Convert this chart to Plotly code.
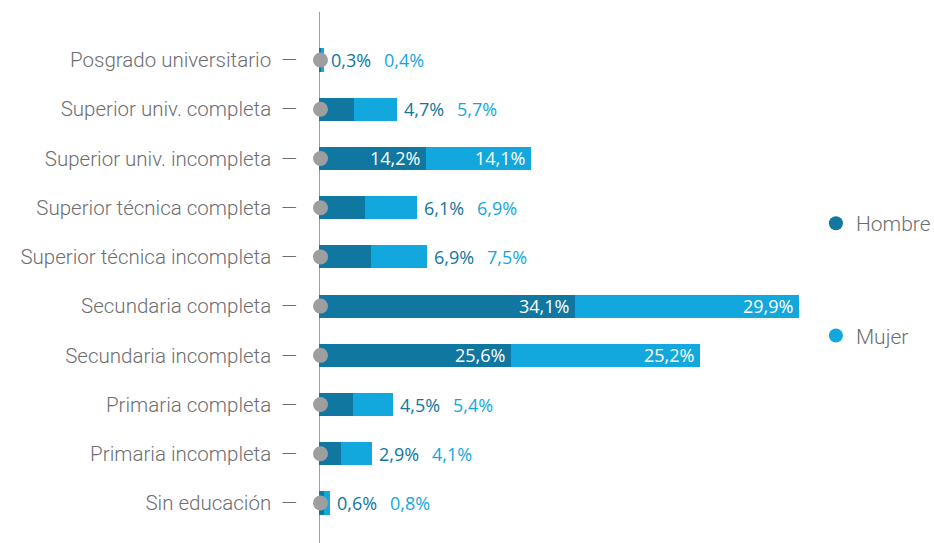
import plotly.graph_objects as go

# Education level, bottom to top
categories = [
    "Sin educación",
    "Primaria incompleta",
    "Primaria completa",
    "Secundaria incompleta",
    "Secundaria completa",
    "Superior técnica incompleta",
    "Superior técnica completa",
    "Superior univ. incompleta",
    "Superior univ. completa",
    "Posgrado universitario",
]
hombre = [0.6, 2.9, 4.5, 25.6, 34.1, 6.9, 6.1, 14.2, 4.7, 0.3]
mujer = [0.8, 4.1, 5.4, 25.2, 29.9, 7.5, 6.9, 14.1, 5.7, 0.4]

C_H = "#0f77a0"
C_M = "#13a8dd"
GRAY_TXT = "#6d6e71"
GRAY_AX = "#9e9ea0"
LABEL_FONT = "Roboto"

def fmt(v):
    return f"{v:.1f}".replace(".", ",") + "%"

ypos = list(range(len(categories)))
BAR_W = 0.47

fig = go.Figure()
fig.add_trace(go.Bar(y=ypos, x=hombre, orientation="h", marker=dict(color=C_H, line=dict(width=0)),
                     width=BAR_W, showlegend=False, hoverinfo="skip"))
fig.add_trace(go.Bar(y=ypos, x=mujer, orientation="h", marker=dict(color=C_M, line=dict(width=0)),
                     width=BAR_W, showlegend=False, hoverinfo="skip"))

# gray dots on the baseline
fig.add_trace(go.Scatter(y=ypos, x=[0.2] * len(ypos), mode="markers", cliponaxis=False,
                         marker=dict(color=GRAY_AX, size=15), showlegend=False, hoverinfo="skip"))

# legend entries with round markers
fig.add_trace(go.Scatter(x=[None], y=[None], mode="markers", name="Hombre", legendgroup="h",
                         marker=dict(color=C_H, size=14)))
fig.add_trace(go.Scatter(x=[None], y=[None], mode="markers", name="Mujer", legendgroup="m",
                         marker=dict(color=C_M, size=14)))

VAL_FONT = "Open Sans"
annotations = []
for y, h, m in zip(ypos, hombre, mujer):
    if h >= 10:
        annotations.append(dict(x=h, y=y, text=fmt(h), xanchor="right", xshift=-4, showarrow=False,
                                font=dict(family=VAL_FONT, size=18, color="white")))
        annotations.append(dict(x=h + m, y=y, text=fmt(m), xanchor="right", xshift=-4, showarrow=False,
                                font=dict(family=VAL_FONT, size=18, color="white")))
    else:
        annotations.append(dict(x=h + m, y=y, text=fmt(h), xanchor="left", xshift=5, showarrow=False,
                                font=dict(family=VAL_FONT, size=18, color=C_H)))
        annotations.append(dict(x=h + m, y=y, text=fmt(m), xanchor="left", xshift=58, showarrow=False,
                                font=dict(family=VAL_FONT, size=18, color=C_M)))

fig.update_layout(
    width=934, height=543,
    margin=dict(l=319, r=0, t=0, b=0, autoexpand=False),
    paper_bgcolor="white", plot_bgcolor="white",
    barmode="stack",
    annotations=annotations,
    shapes=[dict(type="line", xref="x", yref="y", x0=0, x1=0, y0=-0.9, y1=9.98,
                 line=dict(color=GRAY_AX, width=2), layer="below")],
    xaxis=dict(range=[0, 82], visible=False, fixedrange=True),
    yaxis=dict(range=[-0.813, 10.22], tickvals=ypos,
               ticktext=[c + "  —" for c in categories],
               showgrid=False, zeroline=False, showline=False, ticks="",
               ticklabelstandoff=21,
               tickfont=dict(family=LABEL_FONT, weight=300, size=20.5, color=GRAY_TXT)),
    legend=dict(x=0.808, y=0.626, xanchor="left", yanchor="top", tracegroupgap=82,
                traceorder="grouped", bgcolor="rgba(0,0,0,0)",
                font=dict(family=LABEL_FONT, weight=300, size=21, color=GRAY_TXT)),
)

fig.write_html("out.html")
